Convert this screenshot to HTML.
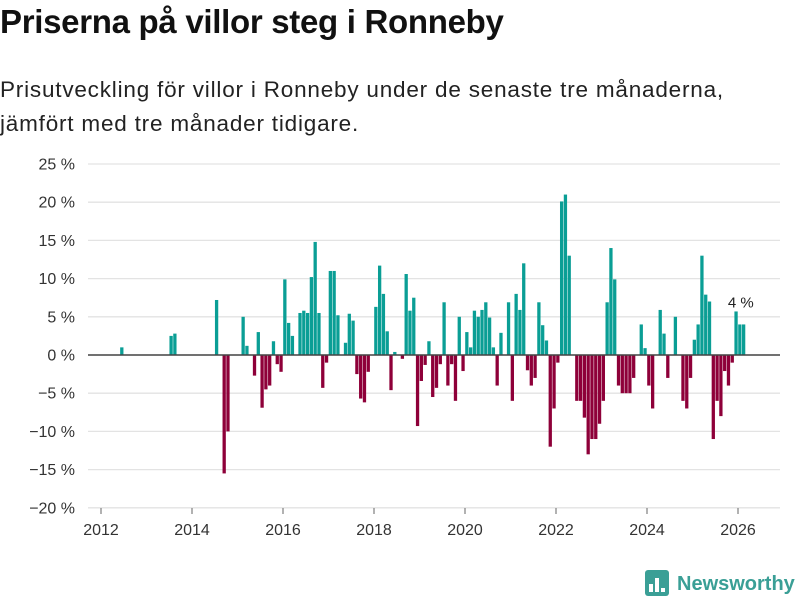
<!DOCTYPE html>
<html><head><meta charset="utf-8">
<style>
body{margin:0;background:#fff;font-family:"Liberation Sans","DejaVu Sans",sans-serif;}
#wrap{position:relative;width:800px;height:600px;overflow:hidden;}
h1{position:absolute;left:0;top:3px;margin:0;font-size:33px;font-weight:bold;color:#111;letter-spacing:-0.3px;}
.sub{position:absolute;left:0;top:73px;margin:0;font-size:22.5px;line-height:34px;color:#222;letter-spacing:0.8px;}
svg{position:absolute;left:0;top:0;}
</style></head>
<body>
<div id="wrap">
<h1>Priserna på villor steg i Ronneby</h1>
<p class="sub">Prisutveckling för villor i Ronneby under de senaste tre månaderna,<br>jämfört med tre månader tidigare.</p>
<svg id="chart" width="800" height="600"></svg>
</div>
<script>
const startYear = 2012;
const values = [null,null,null,null,null,1.0,null,null,null,null,null,null,
null,null,null,null,null,null,2.5,2.8,null,null,null,null,
null,null,null,null,null,null,7.2,null,-15.5,-10,null,null,
null,5,1.2,null,-2.7,3.0,-6.9,-4.5,-4.0,1.8,-1.2,-2.2,
9.9,4.2,2.5,null,5.5,5.8,5.5,10.2,14.8,5.5,-4.3,-1.0,
11,11,5.2,null,1.6,5.4,4.5,-2.5,-5.7,-6.2,-2.2,null,
6.3,11.7,8,3.1,-4.6,0.4,null,-0.5,10.6,5.8,7.5,-9.3,
-3.4,-1.3,1.8,-5.5,-4.3,-1.2,6.9,-4.0,-1.2,-6.0,5.0,-2.1,
3.0,1.0,5.8,5.0,5.9,6.9,4.9,1.0,-4.0,2.9,null,6.9,
-6.0,8.0,5.9,12,-2.0,-4.0,-3.0,6.9,3.9,1.9,-12,-7,
-1,20.1,21,13,null,-6,-6,-8.2,-13,-11,-11,-9,
-6,6.9,14,9.9,-4,-5,-5,-5,-3,null,4,0.9,
-4,-7,null,5.9,2.8,-3,null,5,null,-6,-7,-3,
2,4,13,7.9,7,-11,-6,-8,-2.1,-4,-1,5.7,
4,4];
const yTicks = [25,20,15,10,5,0,-5,-10,-15,-20];
const xTicks = [2012,2014,2016,2018,2020,2022,2024,2026];
const lastLabel = "4 %";

const NS='http://www.w3.org/2000/svg';
const svg=document.getElementById('chart');
const X0=101, PXY=45.5, Y0=355, PXV=7.64;
function xYear(y){return X0+(y-startYear)*PXY;}
function xMonth(i){return xYear(startYear+i/12);}
function yVal(v){return Y0-v*PXV;}
function mk(tag,attrs){const e=document.createElementNS(NS,tag);for(const k in attrs)e.setAttribute(k,attrs[k]);svg.appendChild(e);return e;}

yTicks.forEach(t=>{
  const g=mk('line',{x1:88,x2:780,y1:yVal(t),y2:yVal(t),stroke:'#e3e3e3','stroke-width':1.3});
  
  
  const l=mk('text',{x:75,y:yVal(t)+5.5,'text-anchor':'end','font-size':16,fill:'#333'});
  l.textContent=(t<0?'\u2212'+(-t):t)+' %';
  
  
});
const bw=xMonth(1)-xMonth(0);
values.forEach((v,i)=>{
  if(v===null)return;
  const x=xMonth(i)+0.2;
  const y=v>=0?yVal(v):Y0;
  const r=mk('rect',{x:x,y:y,width:bw-0.5,height:Math.abs(v)*PXV,fill:v>=0?'#0a9e95':'#8e0039'});
  
  
});
const z=mk('line',{x1:88,x2:780,y1:Y0,y2:Y0,stroke:'#444','stroke-width':1.6});


xTicks.forEach(t=>{
  const tk=mk('line',{x1:xYear(t),x2:xYear(t),y1:508,y2:514,stroke:'#666','stroke-width':1});
  
  
  const l=mk('text',{x:xYear(t),y:535,'text-anchor':'middle','font-size':16,fill:'#333'});
  l.textContent=t;
  
  
});
const li=values.length-1;
const lab=mk('text',{x:xMonth(li)-1,y:yVal(values[li])-17,'text-anchor':'middle','font-size':15,fill:'#222'});
lab.textContent=lastLabel;



// logo
const lg=mk('g',{});


const box=document.createElementNS(NS,'rect');
box.setAttribute('x',645);box.setAttribute('y',570);box.setAttribute('width',24);box.setAttribute('height',26);box.setAttribute('rx',3);box.setAttribute('fill','#3a9f96');
lg.appendChild(box);
[[649,584,4,8],[655,578,4,14],[661,588,4,4]].forEach(b=>{const r=document.createElementNS(NS,'rect');r.setAttribute('x',b[0]);r.setAttribute('y',b[1]);r.setAttribute('width',b[2]);r.setAttribute('height',b[3]);r.setAttribute('fill','#fff');lg.appendChild(r);});
const lt=document.createElementNS(NS,'text');
lt.setAttribute('x',677);lt.setAttribute('y',590);lt.setAttribute('font-size',20);lt.setAttribute('font-weight','bold');lt.setAttribute('fill','#3a9f96');
lt.textContent='Newsworthy';


lg.appendChild(lt);
</script>
</body></html>
